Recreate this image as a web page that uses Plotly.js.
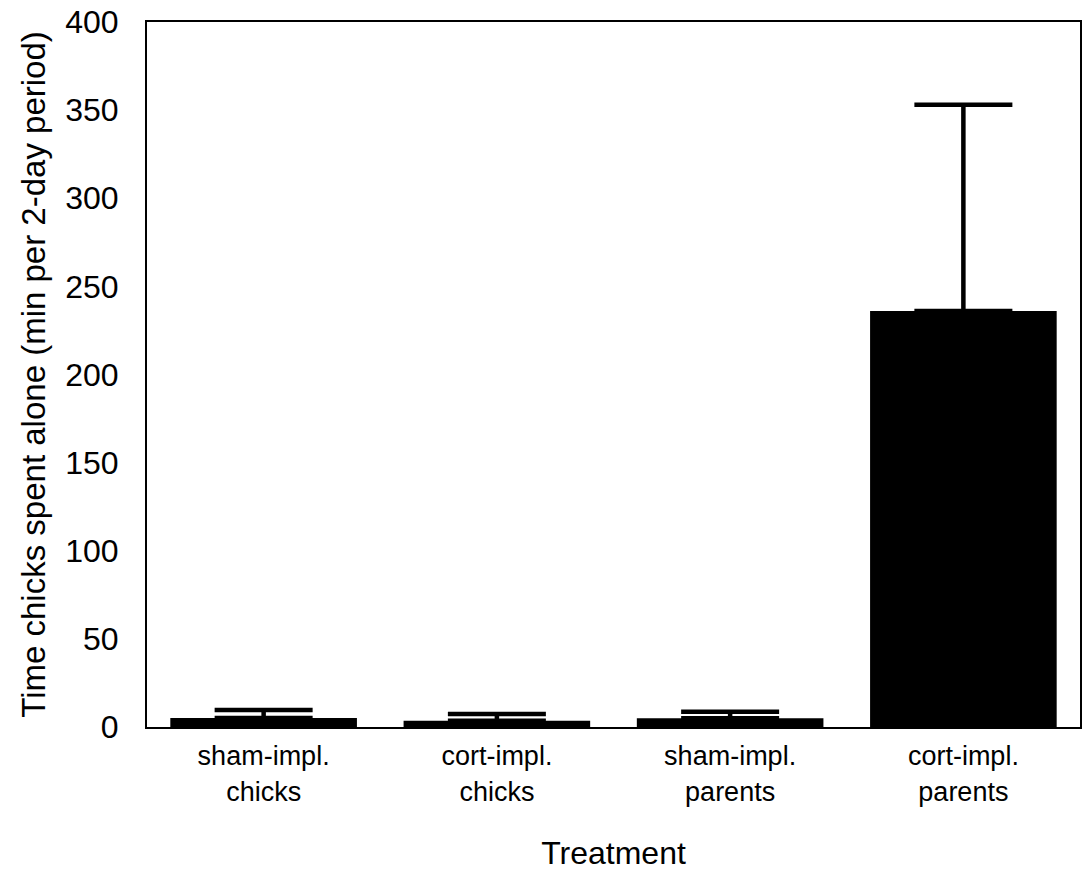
<!DOCTYPE html>
<html>
<head>
<meta charset="utf-8">
<script src="https://cdn.plot.ly/plotly-3.0.1.min.js"></script>
<style>html,body{margin:0;padding:0;background:#fff;}#chart{width:1090px;height:885px;}</style>
</head>
<body>
<div id="chart"></div>
<script>
var categories = ["sham-impl.<br>chicks", "cort-impl.<br>chicks", "sham-impl.<br>parents", "cort-impl.<br>parents"];
var meanTime = [5.1, 3.6, 5.0, 236];
var errorUp = [4.6, 3.8, 3.7, 117];
var errorDown = [0, 0, 0, 0];
var yTicks = [0, 50, 100, 150, 200, 250, 300, 350, 400];

var trace = {
  type: 'bar',
  x: categories,
  y: meanTime,
  marker: {color: '#000000', line: {width: 0}},
  error_y: {
    type: 'data',
    symmetric: false,
    array: errorUp,
    arrayminus: errorDown,
    color: '#000000',
    thickness: 4.5,
    width: 49
  },
  hoverinfo: 'none'
};

var layout = {
  width: 1090,
  height: 885,
  margin: {l: 147, r: 10, t: 22, b: 158},
  paper_bgcolor: '#ffffff',
  plot_bgcolor: '#ffffff',
  showlegend: false,
  bargap: 0.2,
  font: {family: '"Liberation Sans", Arial, sans-serif', color: '#000000'},
  xaxis: {
    tickvals: categories,
    ticktext: categories,
    showgrid: false,
    zeroline: false,
    showline: true,
    linecolor: '#000000',
    linewidth: 2,
    mirror: true,
    ticks: '',
    tickfont: {size: 27, color: '#000000'},
    ticklabelstandoff: 4,
    title: {text: 'Treatment', font: {size: 32, color: '#000000'}, standoff: 36}
  },
  yaxis: {
    range: [0, 400],
    tickvals: yTicks,
    ticktext: yTicks.map(String),
    showgrid: false,
    zeroline: false,
    showline: true,
    linecolor: '#000000',
    linewidth: 2,
    mirror: true,
    ticks: '',
    tickfont: {size: 32, color: '#000000'},
    ticklabelstandoff: 20,
    title: {text: 'Time chicks spent alone (min per 2-day period)', font: {size: 33, color: '#000000'}, standoff: 10}
  }
};

Plotly.newPlot('chart', [trace], layout, {staticPlot: true, displayModeBar: false});
</script>
</body>
</html>
